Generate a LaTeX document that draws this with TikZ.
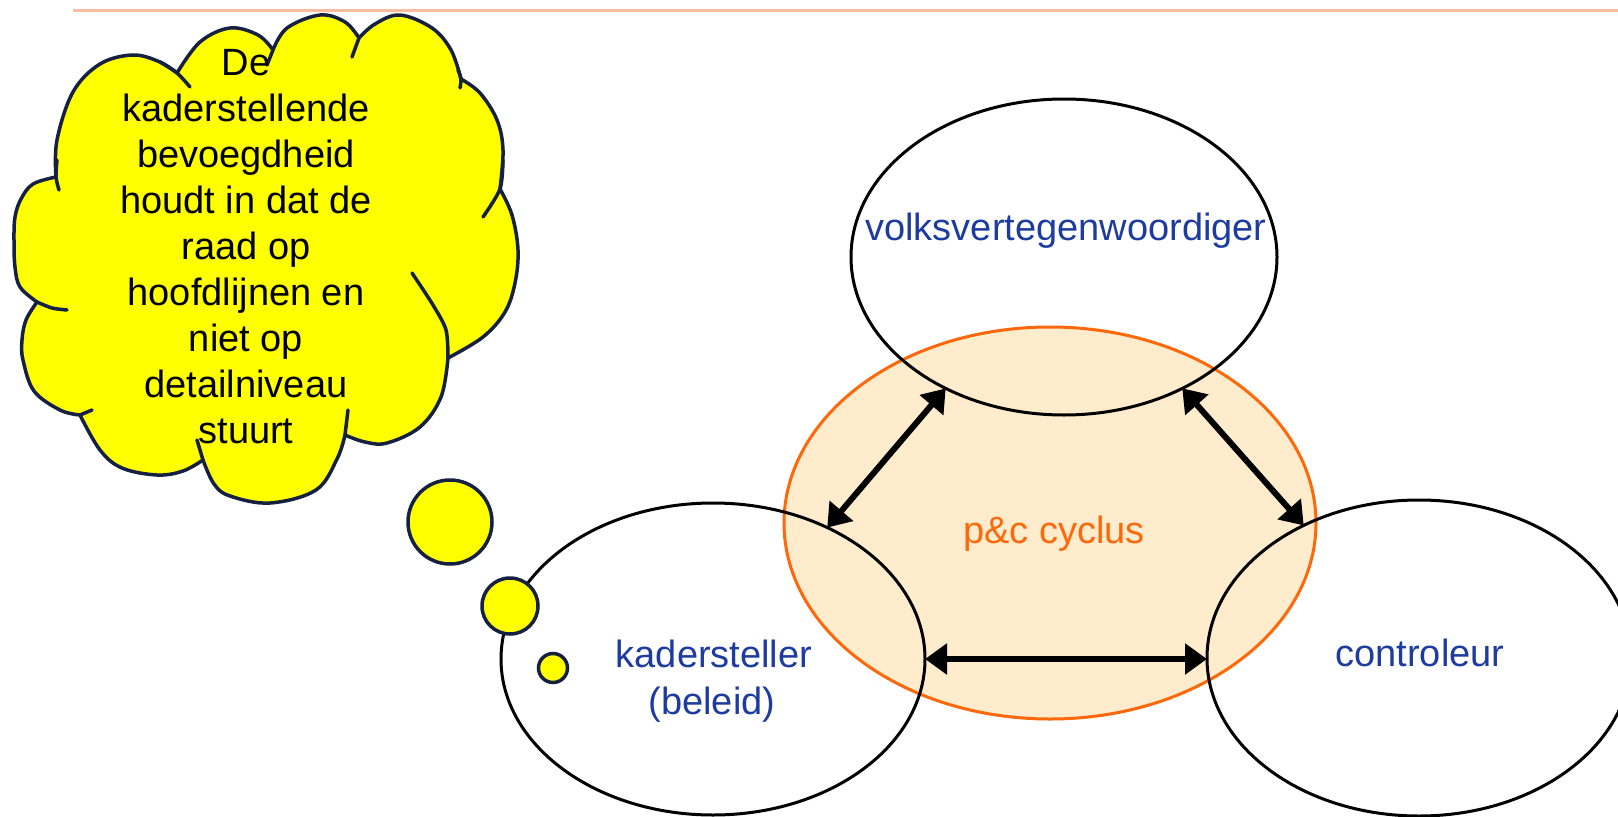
\documentclass[tikz,border=0pt]{standalone}
\usepackage{fontspec}
\setmainfont{Liberation Sans}
\usetikzlibrary{shapes.geometric,arrows.meta}
\definecolor{txtblue}{RGB}{30,60,160}
\definecolor{pcorange}{RGB}{255,104,10}
\definecolor{pcfill}{RGB}{255,236,204}
\definecolor{cloudline}{RGB}{22,32,64}
\definecolor{cloudfill}{RGB}{255,255,0}
\definecolor{topline}{RGB}{250,188,158}
\tikzset{
  ell/.style={ellipse, draw=black, line width=3pt, inner sep=0pt, outer sep=0pt},
  pcell/.style={ellipse, draw=pcorange, fill=pcfill, line width=3pt, inner sep=0pt, outer sep=0pt},
  lbl/.style={font=\fontsize{38}{46}\selectfont, text=txtblue, inner sep=0pt, anchor=base},
  pclbl/.style={font=\fontsize{38}{46}\selectfont, text=pcorange, inner sep=0pt, anchor=base},
  cloudtxt/.style={font=\fontsize{38}{46}\selectfont, text=black, inner sep=0pt, anchor=base},
  arr/.style={line width=6pt, {Triangle[length=22pt,width=30pt]}-{Triangle[length=22pt,width=30pt]}},
  cloudsty/.style={draw=cloudline, fill=cloudfill, line width=3.5pt, line join=round},
  cloudtick/.style={draw=cloudline, line width=3.5pt, line cap=round},
  bubble/.style={circle, draw=cloudline, fill=cloudfill, line width=3.5pt, inner sep=0pt, outer sep=0pt},
  topsty/.style={draw=topline, line width=3pt}
}
\begin{document}
\begin{tikzpicture}[x=1pt,y=-1pt]
\useasboundingbox (0,0) rectangle (1618,817);
\fill[white] (0,0) rectangle (1618,817);
% top rule
\coordinate (tl) at (73,10);
\coordinate (tr) at (1618,10);
\draw[topsty] (tl) -- (tr);
% central ellipse
\node[pcell, minimum width=532pt, minimum height=392pt] (pc) at (1050,523) {};
% role ellipses
\node[ell, minimum width=426pt, minimum height=316pt] (volks) at (1064,257) {};
\node[ell, minimum width=424pt, minimum height=312pt] (kader) at (713,659) {};
\node[ell, minimum width=424pt, minimum height=316pt] (contr) at (1419,658) {};
% arrows
\draw[arr] (kader.49.6) -- (volks.228.7);
\draw[arr] (volks.312.3) -- (contr.131.1);
\draw[arr] (kader.east) -- (kader.east -| contr.west);
% labels
\node[lbl] (tvolks) at (1066,240) {volksvertegenwoordiger};
\node[lbl] (tkader1) at (714,667) {kadersteller};
\node[lbl] (tkader2) at (712,714) {(beleid)};
\node[lbl] (tcontr) at (1420,666) {controleur};
\node[pclbl] (tpc) at (1054,543) {p\&c cyclus};
% cloud
\path[cloudsty]
  plot[smooth, tension=0.6] coordinates {(56,177) (57,140) (73,92) (100,64) (133,55) (160,62) (177,73)}
  -- plot[smooth, tension=0.6] coordinates {(177,73) (200,42) (230,28) (258,35) (273,50)}
  -- plot[smooth, tension=0.6] coordinates {(273,50) (287,28) (320,15) (345,22) (359,38)}
  -- plot[smooth, tension=0.6] coordinates {(359,38) (375,24) (400,15) (432,28) (451,50) (461,79)}
  -- plot[smooth, tension=0.6] coordinates {(461,79) (480,93) (497,120) (503,150) (500,189)}
  -- plot[smooth, tension=0.6] coordinates {(500,189) (512,215) (518,250) (515,283) (505,312) (483,337) (448,358)}
  -- plot[smooth, tension=0.6] coordinates {(448,358) (441,397) (420,427) (387,443) (365,442) (345,435)}
  -- plot[smooth, tension=0.6] coordinates {(345,435) (337,459) (316,490) (270,503) (230,496) (214,484) (203,460)}
  -- plot[smooth, tension=0.6] coordinates {(203,460) (183,471) (157,475) (122,468) (100,450) (80,415)}
  -- plot[smooth, tension=0.6] coordinates {(80,415) (60,410) (34,391) (23,360) (22,340) (26,320) (37,302)}
  -- plot[smooth, tension=0.6] coordinates {(37,302) (20,287) (15,267) (14,240) (15,217) (21,199) (33,184) (56,177)}
  -- cycle;
% inner arcs of the cloud
\draw[cloudtick] plot[smooth] coordinates {(57,160) (56,177) (59,190)};
\draw[cloudtick] plot[smooth] coordinates {(160,62) (177,73) (190,87)};
\draw[cloudtick] plot[smooth] coordinates {(273,50) (267,65)};
\draw[cloudtick] plot[smooth] coordinates {(359,38) (352,57)};
\draw[cloudtick] plot[smooth] coordinates {(458,70) (461,79) (460,88)};
\draw[cloudtick] plot[smooth] coordinates {(503,160) (500,189) (483,217)};
\draw[cloudtick] plot[smooth] coordinates {(448,358) (446,330) (433,305) (412,273)};
\draw[cloudtick] plot[smooth] coordinates {(345,435) (348,410)};
\draw[cloudtick] plot[smooth] coordinates {(203,460) (197,440)};
\draw[cloudtick] plot[smooth] coordinates {(80,415) (92,410)};
\draw[cloudtick] plot[smooth] coordinates {(37,302) (52,308) (67,310)};
% cloud text
\foreach \t [count=\i] in {De,kaderstellende,bevoegdheid,houdt in dat de,raad op,hoofdlijnen en,niet op,detailniveau,stuurt}
  \node[cloudtxt] (ct\i) at (246,{75+46*(\i-1)}) {\t};
% thought bubbles
\node[bubble, minimum size=84pt] (b1) at (450,522) {};
\node[bubble, minimum size=56pt] (b2) at (510,606) {};
\node[bubble, minimum size=29pt] (b3) at (553,668) {};
\end{tikzpicture}
\end{document}
